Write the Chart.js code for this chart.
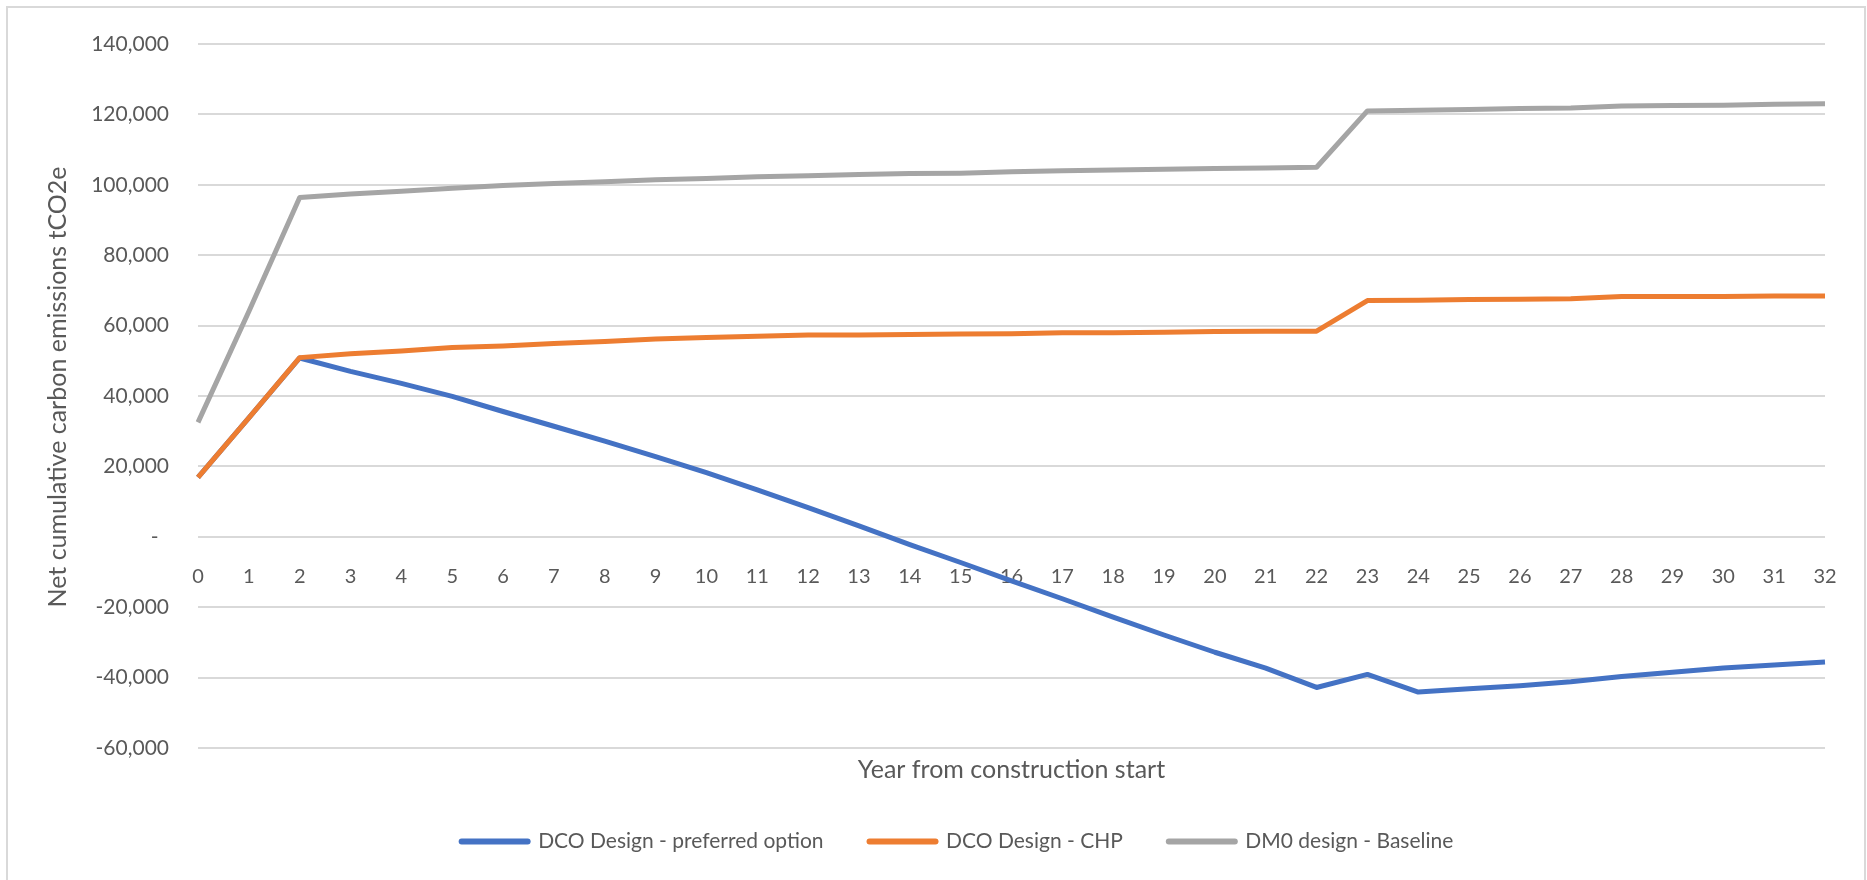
<!DOCTYPE html>
<html>
<head>
<meta charset="utf-8">
<title>Net cumulative carbon emissions</title>
<script src="https://cdn.jsdelivr.net/npm/chart.js@4.4.1/dist/chart.umd.min.js"></script>
<style>
  html, body { margin: 0; padding: 0; background: #ffffff; }
  #wrap { position: relative; width: 1867px; height: 880px; }
  canvas { display: block; }
</style>
</head>
<body>
<div id="wrap"><canvas id="chart" width="1867" height="880"></canvas></div>
<script>
// Years from construction start
const years = ['0','1','2','3','4','5','6','7','8','9','10','11','12','13','14','15','16',
               '17','18','19','20','21','22','23','24','25','26','27','28','29','30','31','32'];

// Net cumulative carbon emissions (tCO2e)
const dcoPreferred = [16900, 33800, 50800, 47000, 43600, 39900, 35600, 31400, 27200, 22800,
                      18200, 13300, 8300, 3100, -2200, -7300, -12500, -17600, -22800, -27900,
                      -32800, -37300, -42800, -39100, -44100, -43200, -42300, -41200, -39700,
                      -38500, -37300, -36400, -35600];
const dcoChp = [16900, 33800, 50900, 52000, 52800, 53800, 54200, 54900, 55500, 56200, 56600,
                57000, 57300, 57300, 57500, 57600, 57700, 58000, 58000, 58100, 58300, 58400,
                58400, 67100, 67200, 67400, 67500, 67600, 68300, 68300, 68300, 68400, 68400];
const dm0Baseline = [32500, 64000, 96400, 97400, 98200, 99000, 99800, 100400, 100900, 101400,
                     101800, 102300, 102600, 102900, 103200, 103300, 103700, 104000, 104200,
                     104400, 104600, 104800, 105000, 121000, 121200, 121400, 121700, 121800,
                     122400, 122500, 122600, 122900, 123000];

const seriesNames = ['DCO Design - preferred option', 'DCO Design - CHP', 'DM0 design - Baseline'];
const seriesColors = ['#4472C4', '#ED7D31', '#A5A5A5'];

const yTicks = { min: -60000, max: 140000, step: 20000 };
const yTitle = 'Net cumulative carbon emissions tCO2e';
const xTitle = 'Year from construction start';

const FONT = 'Lato, "Open Sans", sans-serif';
const TEXT = '#595959';
const GRID = '#D9D9D9';

// white background, outer frame and the rotated value-axis title
const decor = {
  id: 'decor',
  beforeDraw(chart) {
    const ctx = chart.ctx;
    ctx.save();
    ctx.fillStyle = '#ffffff';
    ctx.fillRect(0, 0, chart.width, chart.height);
    ctx.strokeStyle = '#D9D9D9';
    ctx.lineWidth = 2;
    ctx.strokeRect(7, 7, chart.width - 9, chart.height + 20);
    ctx.restore();
  },
  afterDraw(chart) {
    const ctx = chart.ctx;
    ctx.save();
    ctx.translate(58, 387);
    ctx.rotate(-Math.PI / 2);
    ctx.fillStyle = TEXT;
    ctx.font = '25px ' + FONT;
    ctx.textAlign = 'center';
    ctx.textBaseline = 'middle';
    ctx.fillText(yTitle, 0, 0);
    ctx.restore();
  }
};

const datasets = [dcoPreferred, dcoChp, dm0Baseline].map((values, i) => ({
  label: seriesNames[i],
  data: values,
  borderColor: seriesColors[i],
  backgroundColor: seriesColors[i],
  borderWidth: 5,
  borderJoinStyle: 'round',
  borderCapStyle: 'butt',
  pointRadius: 0,
  pointHoverRadius: 0,
  tension: 0,
  fill: false,
  order: 3 - i
}));

new Chart(document.getElementById('chart'), {
  type: 'line',
  data: { labels: years, datasets },
  plugins: [decor],
  options: {
    responsive: false,
    animation: false,
    events: [],
    layout: { padding: { left: 90, right: 42, top: 44, bottom: 18 } },
    scales: {
      x: {
        type: 'category',
        position: 'bottom',
        offset: false,
        afterFit(scale) { scale.height = 37; },
        grid: { display: false },
        border: { display: false },
        ticks: { display: false },
        title: {
          display: true,
          text: xTitle,
          color: TEXT,
          font: { family: FONT, size: 25 },
          padding: { top: 0, bottom: 0 }
        }
      },
      xZero: {
        type: 'category',
        axis: 'x',
        position: { y: 0 },
        offset: false,
        grid: { display: false },
        border: { display: false },
        ticks: {
          color: TEXT,
          font: { family: FONT, size: 20 },
          padding: 20,
          maxRotation: 0,
          autoSkip: false
        }
      },
      y: {
        min: yTicks.min,
        max: yTicks.max,
        afterFit(scale) { scale.width = 108; },
        grid: { color: GRID, lineWidth: 2, drawTicks: false },
        border: { display: false },
        ticks: {
          stepSize: yTicks.step,
          color: TEXT,
          font: { family: FONT, size: 21 },
          padding: 29,
          callback: (v) => v === 0 ? '-\u2002' : v.toLocaleString('en-US')
        }
      }
    },
    plugins: {
      title: { display: false },
      tooltip: { enabled: false },
      legend: {
        position: 'bottom',
        labels: {
          color: TEXT,
          font: { family: FONT, size: 21 },
          usePointStyle: true,
          pointStyle: 'line',
          pointStyleWidth: 66,
          padding: 46,
          sort: (a, b) => a.datasetIndex - b.datasetIndex,
          generateLabels(chart) {
            return Chart.defaults.plugins.legend.labels.generateLabels(chart)
              .map(item => Object.assign(item, { lineCap: 'round', lineWidth: 6 }));
          }
        }
      }
    }
  }
});
</script>
</body>
</html>
